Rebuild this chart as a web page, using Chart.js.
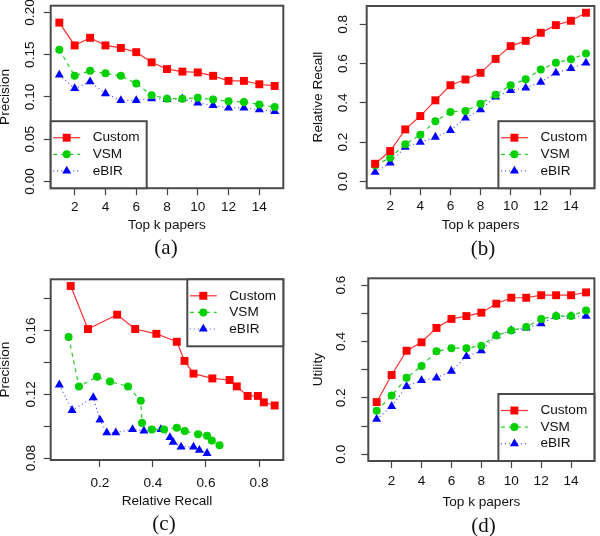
<!DOCTYPE html>
<html><head><meta charset="utf-8">
<script src="https://cdn.jsdelivr.net/npm/chart.js@4/dist/chart.umd.min.js"></script>
<style>
html,body{margin:0;padding:0;background:#fff;}
body{width:600px;height:536px;position:relative;overflow:hidden;}
canvas{position:absolute;}
.cap{position:absolute;font-family:"Liberation Serif","DejaVu Serif",serif;font-size:21px;line-height:21px;transform:translate(-50%,-50%);color:#111;white-space:nowrap;}
</style></head><body>
<canvas id="ca" width="300" height="268" style="left:0;top:0"></canvas>
<canvas id="cb" width="300" height="268" style="left:300px;top:0"></canvas>
<canvas id="cc" width="300" height="268" style="left:0;top:268px"></canvas>
<canvas id="cd" width="300" height="268" style="left:300px;top:268px"></canvas>
<div class="cap" style="left:166px;top:247px">(a)</div>
<div class="cap" style="left:483px;top:247.5px">(b)</div>
<div class="cap" style="left:164px;top:523px">(c)</div>
<div class="cap" style="left:483.5px;top:524.5px">(d)</div>
<script>
// ---------- data ----------
const kValues = [1,2,3,4,5,6,7,8,9,10,11,12,13,14,15];
const methods = ["Custom","VSM","eBIR"];

const precisionCustom = [0.188,0.161,0.170,0.161,0.158,0.153,0.141,0.133,0.130,0.129,0.125,0.119,0.119,0.115,0.113];
const precisionVSM    = [0.156,0.125,0.131,0.128,0.125,0.116,0.102,0.098,0.098,0.099,0.097,0.095,0.094,0.091,0.088];
const precisionEBIR   = [0.126,0.110,0.118,0.104,0.096,0.096,0.098,0.097,0.098,0.093,0.090,0.087,0.087,0.085,0.083];

const recallCustom = [0.090,0.155,0.265,0.333,0.413,0.490,0.519,0.553,0.624,0.689,0.716,0.757,0.796,0.818,0.859];
const recallVSM    = [0.082,0.121,0.189,0.238,0.306,0.354,0.359,0.396,0.442,0.490,0.520,0.570,0.604,0.622,0.651];
const recallEBIR   = [0.047,0.095,0.175,0.200,0.226,0.260,0.323,0.366,0.430,0.464,0.476,0.506,0.553,0.575,0.604];

const utilityCustom = [0.185,0.281,0.367,0.397,0.448,0.480,0.490,0.502,0.534,0.555,0.555,0.564,0.564,0.564,0.574];
const utilityVSM    = [0.154,0.208,0.271,0.313,0.365,0.376,0.376,0.385,0.421,0.439,0.451,0.480,0.490,0.490,0.510];
const utilityEBIR   = [0.124,0.170,0.241,0.262,0.271,0.295,0.347,0.367,0.421,0.439,0.448,0.463,0.490,0.490,0.490];

// tick values and labels
const kTicks = [2,4,6,8,10,12,14];
const kTickLabels = ["2","4","6","8","10","12","14"];
const precisionTicksA = [0,0.05,0.10,0.15,0.20];
const precisionLabelsA = ["0.00","0.05","0.10","0.15","0.20"];
const recallTicksB = [0,0.2,0.4,0.6,0.8];
const recallLabelsB = ["0.0","0.2","0.4","0.6","0.8"];
const recallTicksC = [0.2,0.4,0.6,0.8];
const recallLabelsC = ["0.2","0.4","0.6","0.8"];
const precisionTicksC = [0.08,0.10,0.12,0.14,0.16,0.18];
const precisionLabelsC = ["0.08","","0.12","","0.16",""];
const utilityTicksD = [0,0.1,0.2,0.3,0.4,0.5,0.6];
const utilityLabelsD = ["0.0","","0.2","","0.4","","0.6"];

// ---------- styling ----------
const FONT = '"Liberation Sans", Arial, Helvetica, sans-serif';
const FS = 13.6;
const TL = 7;
const styles = [
  {color:'#ff0000', line:'#ff3030', dash:[], point:'rect', r:5.6},
  {color:'#00d000', line:'#20d020', dash:[4,4], point:'circle', r:4},
  {color:'#0000ff', line:'#4848ff', dash:[1,3], point:'triangle', r:5.2}
];

function rRange(vals){ // R default 4% axis extension
  const mn = Math.min(...vals), mx = Math.max(...vals), d = (mx-mn)*0.04;
  return [mn-d, mx+d];
}
const mctx = document.createElement('canvas').getContext('2d');
function widest(labels){
  mctx.font = FS + 'px ' + FONT;
  return Math.max(...labels.map(l => mctx.measureText(l).width));
}

function drawMarker(ctx, style, r, x, y){
  ctx.beginPath();
  if (style === 'rect') {
    const s = r/Math.SQRT2;
    ctx.rect(x-s, y-s, 2*s, 2*s);
  } else if (style === 'circle') {
    ctx.arc(x, y, r, 0, Math.PI*2);
  } else {
    let a = 0;
    ctx.moveTo(x + Math.sin(a)*r, y - Math.cos(a)*r);
    a += 2*Math.PI/3; ctx.lineTo(x + Math.sin(a)*r, y - Math.cos(a)*r);
    a += 2*Math.PI/3; ctx.lineTo(x + Math.sin(a)*r, y - Math.cos(a)*r);
    ctx.closePath();
  }
  ctx.fill();
}

const boxPlugin = {
  id: 'rbox',
  afterDraw(chart, args, opts) {
    const ctx = chart.ctx, a = chart.chartArea;
    ctx.save();
    ctx.setLineDash([]);
    ctx.strokeStyle = '#4a4a4a'; ctx.lineWidth = 2;
    ctx.strokeRect(a.left, a.top, a.right-a.left, a.bottom-a.top);
    const lw = 96, lh = 67;
    const lx = opts.corner.indexOf('left') >= 0 ? a.left : a.right - lw;
    const ly = opts.corner.indexOf('top') >= 0 ? a.top : a.bottom - lh;
    ctx.fillStyle = '#fff'; ctx.fillRect(lx, ly, lw, lh);
    ctx.strokeRect(lx, ly, lw, lh);
    chart.data.datasets.forEach((ds, i) => {
      const yy = ly + 16.5 + i*16.6;
      const st = styles[i];
      ctx.setLineDash(st.dash); ctx.strokeStyle = st.line; ctx.lineWidth = 1.2;
      ctx.beginPath(); ctx.moveTo(lx+2.5, yy); ctx.lineTo(lx+29.5, yy); ctx.stroke();
      ctx.setLineDash([]);
      ctx.fillStyle = st.color;
      drawMarker(ctx, st.point, st.r, lx+16, yy);
      ctx.fillStyle = '#111'; ctx.font = FS + 'px ' + FONT;
      ctx.textAlign = 'left'; ctx.textBaseline = 'middle';
      ctx.fillText(ds.label, lx+42, yy);
    });
    ctx.restore();
  }
};

function makeChart(id, cfg){
  const W = 300, H = 268;
  const xScaleH = cfg.xTitleY + FS/2 - cfg.B;
  const wY = widest(cfg.yLabels);
  const datasets = cfg.series.map((s, i) => ({
    label: methods[i],
    data: s.x.map((xv, j) => ({x: xv, y: s.y[j]})),
    showLine: true,
    borderColor: styles[i].line,
    backgroundColor: styles[i].color,
    borderWidth: 1.2,
    borderDash: styles[i].dash,
    pointStyle: styles[i].point,
    pointRadius: styles[i].r,
    pointHoverRadius: styles[i].r,
    pointBackgroundColor: styles[i].color,
    pointBorderWidth: 0,
    tension: 0, fill: false, clip: false
  }));
  const tickFont = {family: FONT, size: FS, lineHeight: 1};
  return new Chart(document.getElementById(id), {
    type: 'scatter',
    data: {datasets},
    options: {
      responsive: false, animation: false, devicePixelRatio: 1,
      layout: {padding: {left: 0, top: cfg.T, right: W - cfg.R, bottom: H - cfg.xTitleY - FS/2}},
      plugins: {legend: {display: false}, tooltip: {enabled: false}, rbox: {corner: cfg.corner}},
      scales: {
        x: {
          type: 'linear', position: 'bottom', min: cfg.xRange[0], max: cfg.xRange[1],
          afterBuildTicks: s => { s.ticks = cfg.xTicks.map(v => ({value: v})); },
          afterFit: s => { s.height = xScaleH; s.paddingLeft = 0; s.paddingRight = 0; s.paddingTop = 0; s.paddingBottom = 0; },
          ticks: {autoSkip: false, minRotation: 0, maxRotation: 0,
                  padding: cfg.xLabelY - cfg.B - TL - FS/2,
                  font: tickFont, color: '#111',
                  callback: (v, i) => cfg.xLabels[i]},
          grid: {display: true, drawOnChartArea: false, drawTicks: true, tickLength: TL, tickColor: '#444', tickWidth: 1.2},
          border: {display: false},
          title: {display: true, text: cfg.xTitle, font: tickFont, color: '#111', padding: 0}
        },
        y: {
          type: 'linear', position: 'left', min: cfg.yRange[0], max: cfg.yRange[1],
          afterBuildTicks: s => { s.ticks = cfg.yTicks.map(v => ({value: v})); },
          afterFit: s => { s.width = cfg.L; s.paddingLeft = 0; s.paddingRight = 0; s.paddingTop = 0; s.paddingBottom = 0; },
          ticks: {autoSkip: false, minRotation: 90, maxRotation: 90, crossAlign: 'center',
                  padding: cfg.L - TL - wY/2 - cfg.yLabelX,
                  font: tickFont, color: '#111',
                  callback: (v, i) => cfg.yLabels[i]},
          grid: {display: true, drawOnChartArea: false, drawTicks: true, tickLength: TL, tickColor: '#444', tickWidth: 1.2},
          border: {display: false},
          title: {display: true, text: cfg.yTitle, font: tickFont, color: '#111',
                  padding: {top: cfg.yTitleX - FS/2, bottom: 0}}
        }
      }
    },
    plugins: [boxPlugin]
  });
}

const kRange = rRange(kValues);

makeChart('ca', {
  L: 50.7, R: 283.3, T: 5.7, B: 188.2,
  xTitleY: 225.7, xLabelY: 207, yLabelX: 30, yTitleX: 5,
  xRange: kRange, yRange: rRange([0, 0.2]),
  xTicks: kTicks, xLabels: kTickLabels, yTicks: precisionTicksA, yLabels: precisionLabelsA,
  xTitle: 'Top k papers', yTitle: 'Precision', corner: 'bottomleft',
  series: [{x: kValues, y: precisionCustom}, {x: kValues, y: precisionVSM}, {x: kValues, y: precisionEBIR}]
});

makeChart('cb', {
  L: 66.7, R: 297.8, T: 6, B: 188.2,
  xTitleY: 225.7, xLabelY: 206.7, yLabelX: 43, yTitleX: 18.3,
  xRange: kRange, yRange: rRange([0, Math.max(...recallCustom)]),
  xTicks: kTicks, xLabels: kTickLabels, yTicks: recallTicksB, yLabels: recallLabelsB,
  xTitle: 'Top k papers', yTitle: 'Relative Recall', corner: 'bottomright',
  series: [{x: kValues, y: recallCustom}, {x: kValues, y: recallVSM}, {x: kValues, y: recallEBIR}]
});

makeChart('cc', {
  L: 50.7, R: 283.3, T: 11.3, B: 192,
  xTitleY: 233.7, xLabelY: 215.3, yLabelX: 31, yTitleX: 5,
  xRange: rRange([...recallCustom, ...recallVSM, ...recallEBIR]),
  yRange: rRange([...precisionCustom, ...precisionVSM, ...precisionEBIR]),
  xTicks: recallTicksC, xLabels: recallLabelsC, yTicks: precisionTicksC, yLabels: precisionLabelsC,
  xTitle: 'Relative Recall', yTitle: 'Precision', corner: 'topright',
  series: [{x: recallCustom, y: precisionCustom}, {x: recallVSM, y: precisionVSM}, {x: recallEBIR, y: precisionEBIR}]
});

makeChart('cd', {
  L: 68.3, R: 297.8, T: 10.3, B: 193,
  xTitleY: 234.7, xLabelY: 213.7, yLabelX: 41, yTitleX: 18.3,
  xRange: kRange, yRange: rRange([0, 0.6]),
  xTicks: kTicks, xLabels: kTickLabels, yTicks: utilityTicksD, yLabels: utilityLabelsD,
  xTitle: 'Top k papers', yTitle: 'Utility', corner: 'bottomright',
  series: [{x: kValues, y: utilityCustom}, {x: kValues, y: utilityVSM}, {x: kValues, y: utilityEBIR}]
});
</script>
</body></html>
